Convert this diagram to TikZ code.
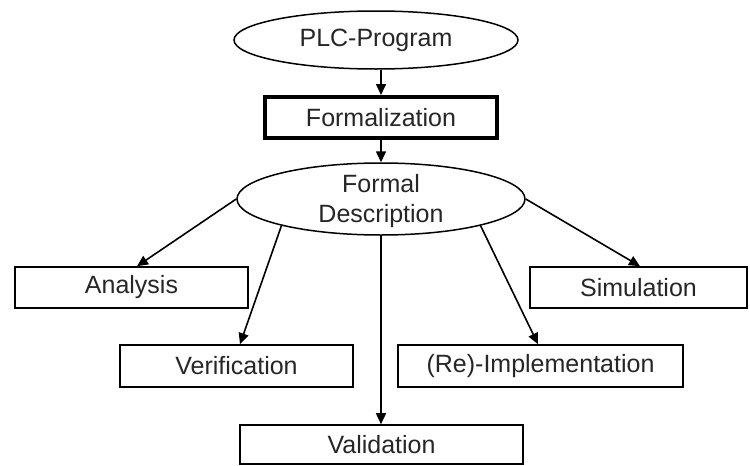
\documentclass[tikz,border=0pt]{standalone}
\usepackage{fontspec}
\setmainfont{Liberation Sans}
\usetikzlibrary{shapes.geometric,arrows.meta,calc}

\tikzset{
  every node/.style={font=\fontsize{25}{30.5}\selectfont, text=black!85},
  oval/.style={draw, ellipse, line width=1.5pt, inner sep=0pt},
  stepbox/.style={draw, rectangle, line width=1.6pt, inner sep=0pt},
  thickbox/.style={draw, rectangle, line width=4pt, inner sep=0pt},
  arr/.style={line width=1.6pt, -{Triangle[length=11pt,width=10pt]}}
}

\begin{document}
\begin{tikzpicture}[x=1pt,y=-1pt]
  \useasboundingbox[fill=white] (0,0) rectangle (750,466);

  % top of the chain
  \node[oval, minimum width=284, minimum height=58] (plc) at (376,40) {PLC-Program};
  \node[thickbox, minimum width=232, minimum height=41] (form) at (381,117.5) {Formalization};
  \node[oval, minimum width=288, minimum height=72] (fd) at (381,199) {};
  \node[align=center] (fdtext) at (381,201) {Formal\\Description};

  % uses of the formal description
  \node[stepbox, minimum width=233, minimum height=41] (an)  at (131.5,287.5) {Analysis};
  \node[stepbox, minimum width=217, minimum height=41] (sim) at (638.5,287.5) {Simulation};
  \node[stepbox, minimum width=233, minimum height=42] (ver) at (236.5,366) {Verification};
  \node[stepbox, minimum width=285, minimum height=42] (re)  at (540.5,366) {(Re)-Implementation};
  \node[stepbox, minimum width=283, minimum height=39] (val) at (381.5,444.5) {Validation};

  % connectors
  \draw[arr] (plc.south -| form.north) -- (form.north);
  \draw[arr] (form.south) -- (fd.north -| form.south);
  \draw[arr] (fd.180) -- ($(an.north)+(5.5,0)$);
  \draw[arr] (fd.195) -- ($(ver.north)+(3.5,0)$);
  \draw[arr] (fd.270) -- (val.north -| fd.270);
  \draw[arr] (fd.-15) -- ($(re.north)+(-2.5,0)$);
  \draw[arr] (fd.0) -- ($(sim.north)+(1.5,0)$);
\end{tikzpicture}
\end{document}
